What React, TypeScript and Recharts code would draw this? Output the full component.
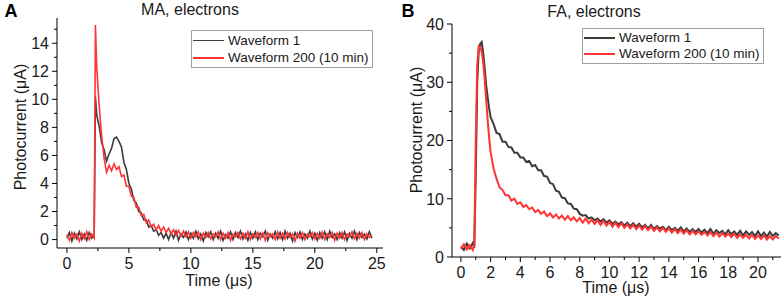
import { LineChart, Line, XAxis, YAxis, Legend } from 'recharts';
import type { CSSProperties } from 'react';

const FONT = '"Liberation Sans", Arial, sans-serif';
const BLACK = '#3c3c3c';
const RED = '#ff3434';
const TEXT = '#1a1a1a';

// Panel A: MA, electrons (time in us, current in uA)
const timeA = [
  0, 0.2, 0.4, 0.6, 0.8, 1, 1.2, 1.4, 1.6, 1.8, 2, 2.2,
  2.3,
  2.4, 2.6, 2.8, 3, 3.2, 3.4, 3.6, 3.8, 4, 4.2, 4.4, 4.6, 4.8, 5,
  5.2, 5.4, 5.6, 5.8, 6, 6.2, 6.4, 6.6, 6.8, 7, 7.2, 7.4, 7.6, 7.8,
  8, 8.2, 8.4, 8.6, 8.8, 9, 9.2, 9.4, 9.6, 9.8, 10, 10.2,
  10.4, 10.6, 10.8, 11, 11.2, 11.4, 11.6, 11.8, 12, 12.2, 12.4, 12.6,
  12.8, 13, 13.2, 13.4, 13.6, 13.8, 14, 14.2, 14.4, 14.6, 14.8, 15,
  15.2, 15.4, 15.6, 15.8, 16, 16.2, 16.4, 16.6, 16.8, 17, 17.2, 17.4,
  17.6, 17.8, 18, 18.2, 18.4, 18.6, 18.8, 19, 19.2, 19.4, 19.6, 19.8,
  20, 20.2, 20.4, 20.6, 20.8, 21, 21.2, 21.4, 21.6, 21.8, 22, 22.2,
  22.4, 22.6, 22.8, 23, 23.2, 23.4, 23.6, 23.8, 24, 24.2, 24.4, 24.6,
];

const maWave1 = [
  0.1, 0.5, -0.1, 0.45, 0.05, 0.55, 0.0, 0.4, -0.05, 0.5, 0.1, 0.35,
  10.2,
  8.9, 8.1, 6.9, 6.4, 5.6, 6.1, 6.5, 7.2, 7.3, 7.0, 6.6, 5.5, 5.0, 4.0,
  3.6, 2.8, 2.6, 2.0, 1.9, 1.4, 1.4, 0.9, 1.0, 0.6, 0.7, 0.3, 0.5, 0.1,
  0.45, 0.0, 0.5, 0.1, 0.6, -0.05, 0.4, 0.15, 0.55, 0.0, 0.45, 0.1,
  0.6, 0.05, 0.4, -0.1, 0.5, 0.2, 0.55, 0.0, 0.45, 0.1, 0.6, -0.05,
  0.35, 0.1, 0.55, 0.0, 0.5, 0.15, 0.6, 0.05, 0.4, -0.05, 0.5, 0.1,
  0.55, 0.0, 0.45, 0.2, 0.6, -0.05, 0.4, 0.1, 0.55, 0.05, 0.5, 0.0,
  0.6, 0.1, 0.45, -0.1, 0.5, 0.15, 0.55, 0.0, 0.4, 0.1, 0.6, 0.05,
  0.45, -0.05, 0.5, 0.1, 0.55, 0.0, 0.6, 0.15, 0.4, 0.0, 0.5, 0.1,
  0.55, -0.05, 0.45, 0.1, 0.6, 0.0, 0.5, 0.15, 0.4, 0.05, 0.55, 0.1,
];

const maWave200 = [
  0.35, -0.05, 0.5, 0.1, 0.4, -0.1, 0.45, 0.05, 0.55, 0.0, 0.4, 0.1,
  15.3,
  12.4, 9.6, 7.4, 5.8, 4.8, 5.3, 4.9, 5.4, 5.0, 5.2, 4.5, 4.6, 3.8, 3.8,
  3.1, 3.0, 2.3, 2.3, 1.7, 1.8, 1.2, 1.4, 0.9, 1.1, 0.7, 1.0, 0.6, 0.9,
  0.5, 0.8, 0.4, 0.7, 0.3, 0.65, 0.25, 0.6, 0.2, 0.55, 0.1, 0.5,
  0.2, 0.55, 0.0, 0.45, 0.15, 0.5, 0.05, 0.4, 0.2, 0.55, 0.0, 0.45,
  0.1, 0.5, -0.05, 0.4, 0.2, 0.5, 0.05, 0.45, 0.1, 0.55, 0.0, 0.4,
  0.15, 0.5, 0.05, 0.45, -0.05, 0.5, 0.2, 0.4, 0.0, 0.55, 0.1, 0.45,
  0.05, 0.5, 0.15, 0.4, -0.1, 0.45, 0.1, 0.5, 0.0, 0.4, 0.2, 0.5,
  0.05, 0.45, 0.1, 0.55, 0.0, 0.4, 0.15, 0.5, -0.05, 0.45, 0.1, 0.5,
  0.0, 0.4, 0.2, 0.55, 0.05, 0.45, 0.1, 0.5, 0.0, 0.4, 0.15, 0.35,
];

const xTicksA = [0, 2.5, 5, 7.5, 10, 12.5, 15, 17.5, 20, 22.5, 25];
const yTicksA = [0, 1, 2, 3, 4, 5, 6, 7, 8, 9, 10, 11, 12, 13, 14, 15];

// Panel B: FA, electrons
const timeB = [
  0, 0.2, 0.4, 0.6, 0.8,
  0.9, 1, 1.1, 1.2, 1.3, 1.4, 1.5, 1.6, 1.7, 1.8, 1.9, 2,
  2.2, 2.4, 2.6, 2.8, 3, 3.2, 3.4, 3.6, 3.8, 4,
  4.2, 4.4, 4.6, 4.8, 5, 5.2, 5.4, 5.6, 5.8, 6,
  6.2, 6.4, 6.6, 6.8, 7, 7.2, 7.4, 7.6, 7.8, 8,
  8.2, 8.4, 8.6, 8.8, 9, 9.2, 9.4, 9.6, 9.8, 10,
  10.2, 10.4, 10.6, 10.8, 11, 11.2, 11.4, 11.6, 11.8, 12,
  12.2, 12.4, 12.6, 12.8, 13, 13.2, 13.4, 13.6, 13.8, 14,
  14.2, 14.4, 14.6, 14.8, 15, 15.2, 15.4, 15.6, 15.8, 16,
  16.2, 16.4, 16.6, 16.8, 17, 17.2, 17.4, 17.6, 17.8, 18,
  18.2, 18.4, 18.6, 18.8, 19, 19.2, 19.4, 19.6, 19.8, 20,
  20.2, 20.4, 20.6, 20.8, 21, 21.2, 21.4,
];

const faWave1 = [
  1.8, 1.2, 2.3, 1.5, 2.4,
  1.6, 14, 30, 35.5, 36.6, 36.9, 35, 32.5, 29.5, 27.5, 25.5, 24,
  22.8, 21.3, 21.1, 19.8, 19.8, 18.9, 18.8, 17.9, 17.9, 17.1,
  17.1, 16.3, 16.5, 15.6, 15.8, 14.9, 14.9, 13.9, 13.8, 12.7,
  12.5, 11.4, 11.2, 10.2, 10.1, 9.2, 9.1, 8.3, 8.2, 7.4,
  7.1, 7.2, 6.6, 6.8, 6.3, 6.6, 6.1, 6.5, 5.9, 6.3,
  5.7, 6.1, 5.6, 6.0, 5.4, 5.9, 5.3, 5.8, 5.2, 5.7,
  5.1, 5.5, 4.9, 5.5, 4.8, 5.3, 4.9, 5.2, 4.6, 5.2,
  4.6, 5.0, 4.5, 5.1, 4.4, 4.9, 4.3, 4.8, 4.3, 4.8,
  4.2, 4.7, 4.1, 4.8, 4.0, 4.6, 4.1, 4.5, 3.9, 4.6,
  3.9, 4.4, 3.8, 4.5, 3.7, 4.4, 3.8, 4.3, 3.6, 4.4,
  3.6, 4.2, 3.5, 4.3, 3.6, 4.1, 3.7,
];

const faWave200 = [
  1.4, 2.2, 1.3, 2.0, 1.2,
  2.1, 20, 33, 36.2, 36.0, 35.2, 33.4, 30.5, 27, 23.5, 20.5, 18,
  15.2, 13.4, 12.0, 11.5, 10.6, 10.6, 9.7, 10.0, 9.1, 9.4,
  8.6, 8.9, 8.2, 8.5, 7.7, 8.1, 7.4, 7.8, 7.0, 7.5,
  6.8, 7.3, 6.6, 7.1, 6.4, 7.0, 6.3, 6.8, 6.1, 6.7,
  5.9, 6.6, 5.8, 6.4, 5.7, 6.3, 5.5, 6.2, 5.4, 6.0,
  5.2, 5.9, 5.1, 5.8, 5.0, 5.6, 4.9, 5.5, 4.8, 5.4,
  4.7, 5.3, 4.6, 5.2, 4.5, 5.1, 4.4, 5.0, 4.3, 4.9,
  4.2, 4.8, 4.1, 4.7, 4.0, 4.6, 3.9, 4.5, 3.9, 4.4,
  3.8, 4.3, 3.7, 4.3, 3.6, 4.2, 3.5, 4.1, 3.5, 4.0,
  3.4, 4.0, 3.3, 3.9, 3.3, 3.8, 3.2, 3.8, 3.1, 3.7,
  3.1, 3.7, 3.0, 3.6, 3.0, 3.6, 3.2,
];

const xTicksB = [0, 1, 2, 3, 4, 5, 6, 7, 8, 9, 10, 11, 12, 13, 14, 15, 16, 17, 18, 19, 20, 21];
const yTicksB = [0, 5, 10, 15, 20, 25, 30, 35, 40];

const rowsA = timeA.map((t, i) => ({ t, w1: maWave1[i], w200: maWave200[i] }));
const rowsB = timeB.map((t, i) => ({ t, w1: faWave1[i], w200: faWave200[i] }));

const isMajor = (v: number, step: number) => Math.abs(v / step - Math.round(v / step)) < 1e-6;

// Origin-style ticks: long outward ticks with labels, short minor ones
const makeXTick = (step: number) => (props: any) => {
  const { x, y, payload } = props;
  const v = payload.value;
  const major = isMajor(v, step);
  return (
    <g>
      <line x1={x} x2={x} y1={y} y2={y + (major ? 5 : 3)} stroke="#000" />
      {major && (
        <text x={x} y={y + 9} dy="0.72em" textAnchor="middle" fontSize={16} fontFamily={FONT} fill={TEXT}>
          {v}
        </text>
      )}
    </g>
  );
};

const makeYTick = (step: number) => (props: any) => {
  const { x, y, payload } = props;
  const v = payload.value;
  const major = isMajor(v, step);
  return (
    <g>
      <line x1={x - (major ? 5 : 3)} x2={x} y1={y} y2={y} stroke="#000" />
      {major && (
        <text x={x - 8} y={y} dy="0.36em" textAnchor="end" fontSize={16} fontFamily={FONT} fill={TEXT}>
          {v}
        </text>
      )}
    </g>
  );
};

const makeLegend = (swatch: number[], rowHeight: number) => (props: any) => (
  <div
    style={{
      display: 'inline-block',
      border: '1px solid #a0a0a0',
      background: '#fff',
      padding: '1px 3px 1px 1px',
      fontFamily: FONT,
      fontSize: 13.5,
      color: TEXT,
      lineHeight: `${rowHeight}px`,
    }}
  >
    {(props.payload ?? []).map((e: any, i: number) => (
      <div key={e.value} style={{ display: 'flex', alignItems: 'center', whiteSpace: 'nowrap' }}>
        <span style={{ width: 31, borderTop: `${swatch[i]}px solid ${e.color}`, marginRight: 4 }} />
        {e.value}
      </div>
    ))}
  </div>
);

const abs = (left: number, top: number, extra: CSSProperties = {}): CSSProperties => ({
  position: 'absolute',
  left,
  top,
  transform: 'translate(-50%, -50%)',
  whiteSpace: 'nowrap',
  fontFamily: FONT,
  fontSize: 16,
  lineHeight: '16px',
  color: TEXT,
  ...extra,
});

const axisLine = { stroke: '#000', strokeWidth: 1 };

export default function App() {
  return (
    <div style={{ position: 'absolute', left: 0, top: 0, width: 781, height: 299, background: '#fff', overflow: 'hidden' }}>
      <div style={{ position: 'absolute', left: 0, top: 0 }}>
        <LineChart width={390} height={299} data={rowsA} margin={{ top: 18, right: 7, bottom: 0, left: 0 }}>
          <XAxis
            type="number"
            dataKey="t"
            domain={[-0.8, 25.5]}
            allowDataOverflow
            ticks={xTicksA}
            interval={0}
            height={51}
            axisLine={axisLine}
            tickLine={false}
            tickSize={0}
            tickMargin={0}
            tick={makeXTick(5)}
          />
          <YAxis
            type="number"
            domain={[-0.6, 15.8]}
            allowDataOverflow
            ticks={yTicksA}
            interval={0}
            width={57}
            axisLine={axisLine}
            tickLine={false}
            tickSize={0}
            tickMargin={0}
            tick={makeYTick(2)}
          />
          <Legend
            layout="vertical"
            align="center"
            verticalAlign="middle"
            content={makeLegend([1.2, 2], 17)}
            wrapperStyle={{ left: 191, top: 30, width: 'auto' }}
          />
          <Line name="Waveform 1" dataKey="w1" stroke={BLACK} strokeWidth={1.6} dot={false} isAnimationActive={false} />
          <Line name="Waveform 200 (10 min)" dataKey="w200" stroke={RED} strokeWidth={1.6} dot={false} isAnimationActive={false} />
        </LineChart>
      </div>

      <div style={{ position: 'absolute', left: 390, top: 0 }}>
        <LineChart width={391} height={299} data={rowsB} margin={{ top: 24, right: 0, bottom: 0, left: 0 }}>
          <XAxis
            type="number"
            dataKey="t"
            domain={[-0.6, 21.55]}
            allowDataOverflow
            ticks={xTicksB}
            interval={0}
            height={42}
            axisLine={axisLine}
            tickLine={false}
            tickSize={0}
            tickMargin={0}
            tick={makeXTick(2)}
          />
          <YAxis
            type="number"
            domain={[0, 40]}
            allowDataOverflow
            ticks={yTicksB}
            interval={0}
            width={62}
            axisLine={axisLine}
            tickLine={false}
            tickSize={0}
            tickMargin={0}
            tick={makeYTick(10)}
          />
          <Legend
            layout="vertical"
            align="center"
            verticalAlign="middle"
            content={makeLegend([2, 2], 16)}
            wrapperStyle={{ left: 192, top: 28, width: 'auto' }}
          />
          <Line name="Waveform 1" dataKey="w1" stroke={BLACK} strokeWidth={2} dot={false} isAnimationActive={false} />
          <Line name="Waveform 200 (10 min)" dataKey="w200" stroke={RED} strokeWidth={2} dot={false} isAnimationActive={false} />
        </LineChart>
      </div>

      <div style={abs(11, 11, { fontSize: 18, fontWeight: 700, lineHeight: '18px', color: '#000' })}>A</div>
      <div style={abs(408, 11, { fontSize: 18, fontWeight: 700, lineHeight: '18px', color: '#000' })}>B</div>
      <div style={abs(190, 10)}>MA, electrons</div>
      <div style={abs(594, 12)}>FA, electrons</div>
      <div style={abs(219, 281)}>Time (μs)</div>
      <div style={abs(616, 288)}>Time (μs)</div>
      <div style={abs(21, 127, { transform: 'translate(-50%, -50%) rotate(-90deg)' })}>Photocurrent (μA)</div>
      <div style={abs(417, 130, { transform: 'translate(-50%, -50%) rotate(-90deg)' })}>Photocurrent (μA)</div>
    </div>
  );
}
